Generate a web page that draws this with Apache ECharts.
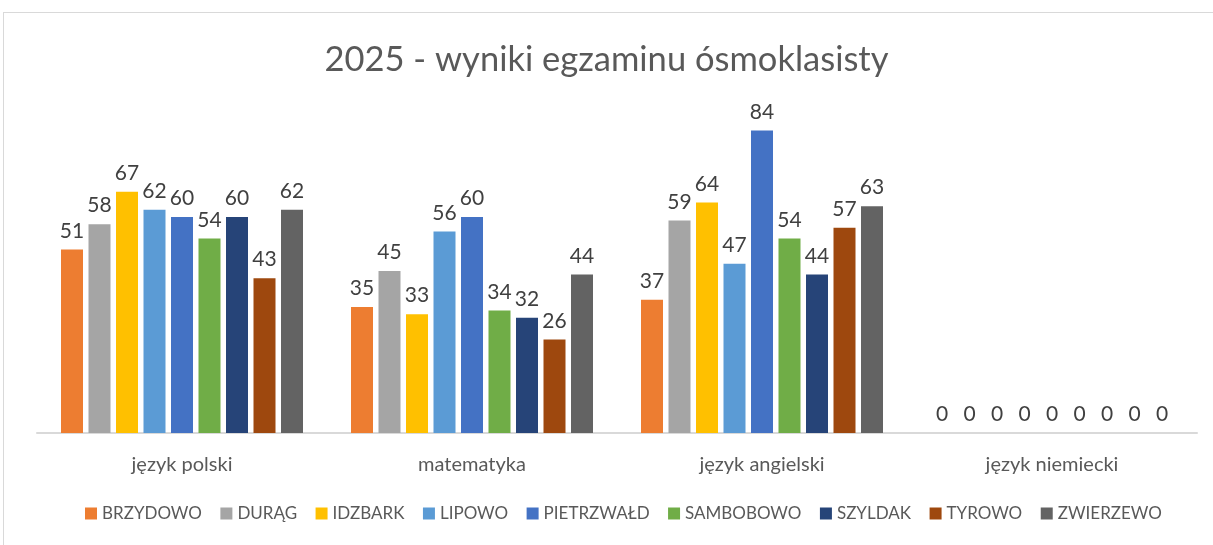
<!DOCTYPE html>
<html><head><meta charset="utf-8">
<script src="https://cdn.jsdelivr.net/npm/echarts@6/dist/echarts.min.js"></script>
<style>
html,body{margin:0;padding:0;background:#fff;}
#frame{position:absolute;left:3px;top:12px;width:1230px;height:560px;border:1px solid #d9d9d9;}
#c{position:absolute;left:0;top:0;width:1213px;height:545px;}
</style></head><body>
<div id="frame"></div>
<div id="c"></div>
<script>
const title = '2025 - wyniki egzaminu ósmoklasisty';
const categories = ['język polski', 'matematyka', 'język angielski', 'język niemiecki'];
const seriesNames = ['BRZYDOWO','DURĄG','IDZBARK','LIPOWO','PIETRZWAŁD','SAMBOBOWO','SZYLDAK','TYROWO','ZWIERZEWO'];
const BRZYDOWO = [51, 35, 37, 0];
const DURAG = [58, 45, 59, 0];
const IDZBARK = [67, 33, 64, 0];
const LIPOWO = [62, 56, 47, 0];
const PIETRZWALD = [60, 60, 84, 0];
const SAMBOBOWO = [54, 34, 54, 0];
const SZYLDAK = [60, 32, 44, 0];
const TYROWO = [43, 26, 57, 0];
const ZWIERZEWO = [62, 44, 63, 0];
const values = [BRZYDOWO, DURAG, IDZBARK, LIPOWO, PIETRZWALD, SAMBOBOWO, SZYLDAK, TYROWO, ZWIERZEWO];
const colors = ['#ED7D31','#A5A5A5','#FFC000','#5B9BD5','#4472C4','#70AD47','#264478','#9E480E','#636363'];
const font = 'Lato, "Open Sans", sans-serif';

const chart = echarts.init(document.getElementById('c'));
chart.setOption({
  animation: false,
  title: {text: title, left: 'center', top: 37, textStyle: {fontFamily: font, fontSize: 34.5, fontWeight: 'normal', color: '#595959'}},
  legend: {bottom: 18, left: 80, itemWidth: 12, itemHeight: 12, itemGap: 18.5, icon: 'rect',
    textStyle: {fontFamily: font, fontSize: 17, color: '#595959'}},
  grid: {left: 37, width: 1160, top: 109, bottom: 112},
  xAxis: {type: 'category', data: categories,
    axisLine: {lineStyle: {color: '#d9d9d9', width: 2}}, axisTick: {show: false},
    axisLabel: {fontFamily: font, fontSize: 20, color: '#595959', margin: 22}},
  yAxis: {type: 'value', min: 0, max: 90, show: false, splitLine: {show: false}},
  series: seriesNames.map((n, i) => ({
    name: n, type: 'bar', data: values[i], barWidth: 22, barGap: '25%',
    itemStyle: {color: colors[i]},
    label: {show: true, position: 'top', distance: 8, fontFamily: font, fontSize: 21, color: '#404040'}
  }))
});
</script></body></html>
